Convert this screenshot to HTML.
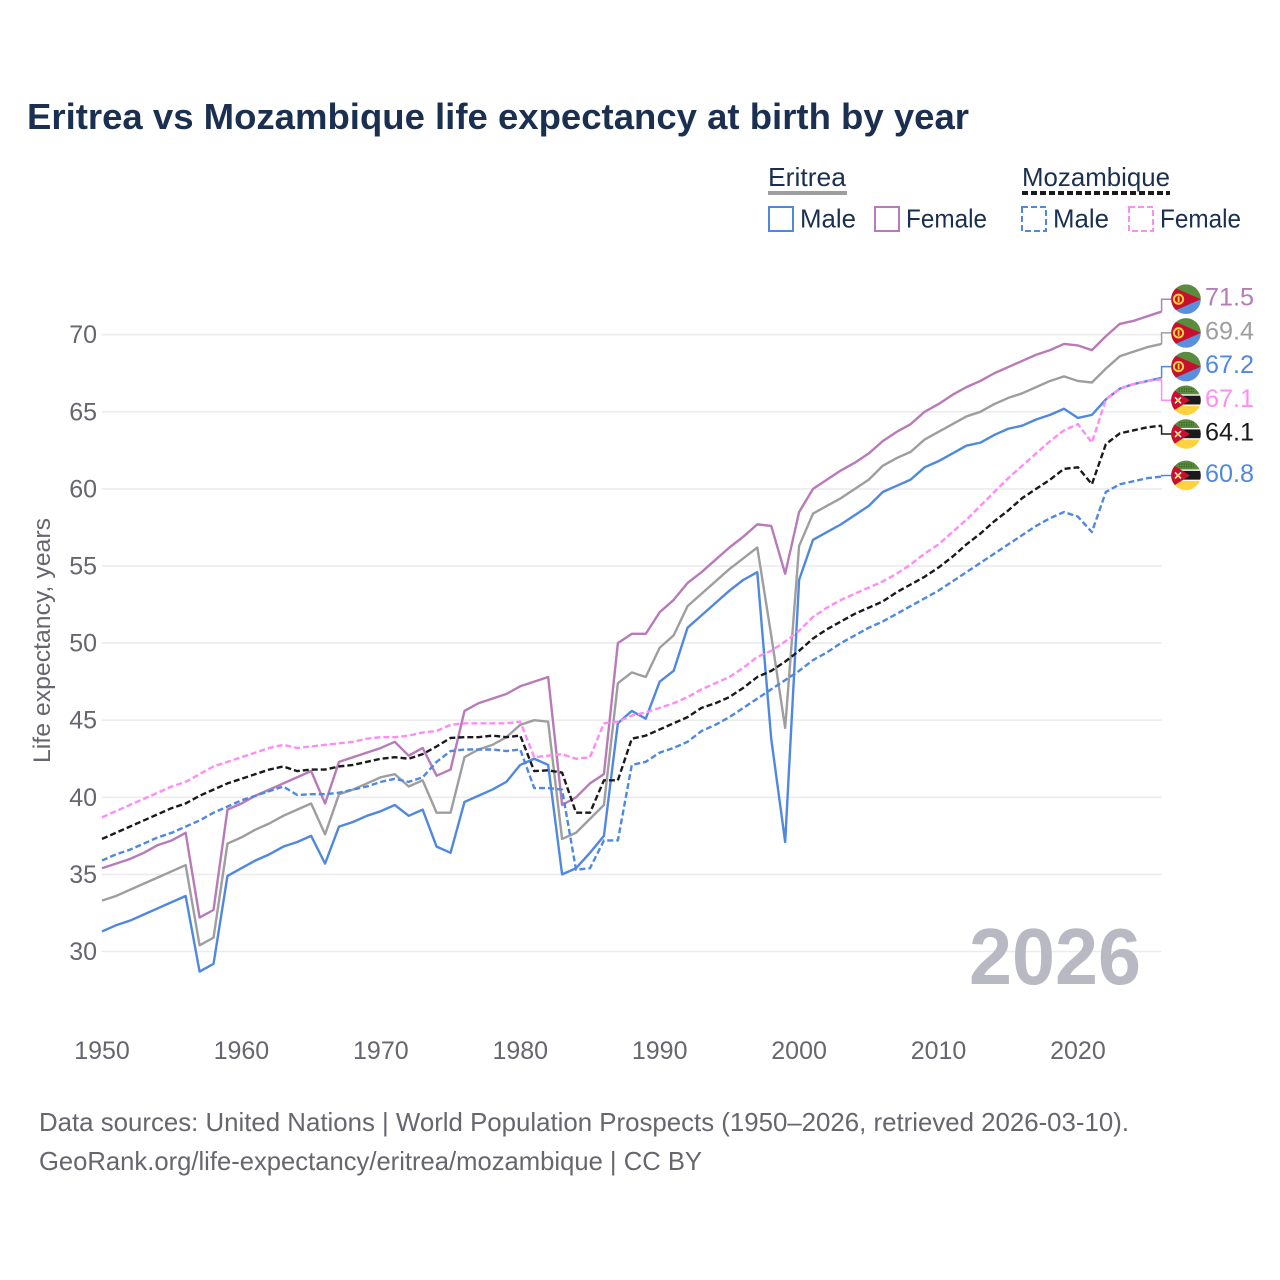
<!DOCTYPE html>
<html lang="en">
<head>
<meta charset="utf-8">
<title>Eritrea vs Mozambique life expectancy at birth by year</title>
<style>
html,body{margin:0;padding:0;background:#fff}
svg{display:block;font-family:"Liberation Sans",sans-serif}
</style>
</head>
<body>
<svg id="chart" xmlns="http://www.w3.org/2000/svg" width="1280" height="1280" viewBox="0 0 1280 1280">
<defs>
  <clipPath id="flag-clip"><circle cx="0" cy="0" r="14.8"/></clipPath>
  <pattern id="moz-dots" width="2.4" height="2.4" patternUnits="userSpaceOnUse"><rect width="2.4" height="2.4" fill="#5b8c3e"/><rect width="1.2" height="1.2" fill="#2f5a22"/></pattern>
  <symbol id="flag-eritrea" overflow="visible" viewBox="-15 -15 30 30" width="30" height="30">
    <g clip-path="url(#flag-clip)">
      <rect x="-15" y="-15" width="30" height="15" fill="#5b8c3e"/>
      <rect x="-15" y="0" width="30" height="15" fill="#5a8fe0"/>
      <polygon points="-15,-13 15,0 -15,13" fill="#c8102e"/>
      <circle cx="-7.5" cy="0" r="4.6" fill="none" stroke="#ffd23f" stroke-width="2"/>
      <rect x="-8.3" y="-2.8" width="1.8" height="5.6" fill="#ffd23f"/>
    </g>
  </symbol>
  <symbol id="flag-mozambique" overflow="visible" viewBox="-15 -15 30 30" width="30" height="30">
    <g clip-path="url(#flag-clip)">
      <rect x="-15" y="-15" width="30" height="10" fill="#5b8c3e"/>
      <rect x="-8" y="-13" width="16" height="6" fill="url(#moz-dots)"/>
      <rect x="-15" y="-6" width="30" height="12" fill="#fff"/>
      <rect x="-15" y="-4.6" width="30" height="8.8" fill="#1a1a1a"/>
      <rect x="-15" y="5.4" width="30" height="10" fill="#ffd23f"/>
      <polygon points="-15,-12 4,0 -15,12" fill="#c8102e"/>
      <path d="M-11-3l6 6M-5-3l-6 6" stroke="#fff" stroke-width="1.5"/>
      <circle cx="-8" cy="0" r="1.6" fill="#ffd23f"/>
    </g>
  </symbol>
</defs>

<text x="27" y="129" font-size="36" font-weight="700" fill="#1b3050" textLength="942" lengthAdjust="spacingAndGlyphs">Eritrea vs Mozambique life expectancy at birth by year</text>

<g id="grid"></g>
<text x="969" y="984" font-size="80" font-weight="700" fill="#b9b9c3" textLength="172" lengthAdjust="spacingAndGlyphs">2026</text>
<g id="y-ticks"></g>
<g id="x-ticks"></g>
<text transform="translate(50,763) rotate(-90)" font-size="24" fill="#66666e" textLength="245" lengthAdjust="spacingAndGlyphs">Life expectancy, years</text>

<g id="series"></g>
<g id="end-labels"></g>

<g font-size="26" fill="#1b3050">
  <g>
    <text x="768" y="186" textLength="78" lengthAdjust="spacingAndGlyphs">Eritrea</text>
    <line x1="768" x2="847" y1="193" y2="193" stroke="#9e9ea0" stroke-width="4"/>
  </g>
  <g>
    <rect x="769" y="207" width="24" height="24" fill="none" stroke="#5088e0" stroke-width="2"/>
    <text x="800" y="227.5" textLength="56" lengthAdjust="spacingAndGlyphs">Male</text>
  </g>
  <g>
    <rect x="875" y="207" width="24" height="24" fill="none" stroke="#b87ab8" stroke-width="2"/>
    <text x="906" y="227.5" textLength="81" lengthAdjust="spacingAndGlyphs">Female</text>
  </g>
  <g>
    <text x="1022" y="186" textLength="148" lengthAdjust="spacingAndGlyphs">Mozambique</text>
    <line x1="1022" x2="1170" y1="193" y2="193" stroke="#1a1a1a" stroke-width="4" stroke-dasharray="6 3"/>
  </g>
  <g>
    <rect x="1022" y="207" width="24" height="24" fill="none" stroke="#5088e0" stroke-width="2" stroke-dasharray="6 3"/>
    <text x="1053" y="227.5" textLength="56" lengthAdjust="spacingAndGlyphs">Male</text>
  </g>
  <g>
    <rect x="1129" y="207" width="24" height="24" fill="none" stroke="#ff8cf5" stroke-width="2" stroke-dasharray="6 3"/>
    <text x="1160" y="227.5" textLength="81" lengthAdjust="spacingAndGlyphs">Female</text>
  </g>
</g>

<g font-size="26" fill="#66666e">
  <text x="39" y="1131" textLength="1090" lengthAdjust="spacingAndGlyphs">Data sources: United Nations | World Population Prospects (1950–2026, retrieved 2026-03-10).</text>
  <text x="39" y="1170" textLength="663" lengthAdjust="spacingAndGlyphs">GeoRank.org/life-expectancy/eritrea/mozambique | CC BY</text>
</g>
</svg>

<script>
const startYear = 1950;
const endYear = 2026;
const xTickLabels = [1950,1960,1970,1980,1990,2000,2010,2020];
const yTickLabels = [30,35,40,45,50,55,60,65,70];

const eritreaMale = [31.3,31.7,32.0,32.4,32.8,33.2,33.6,28.7,29.2,34.9,35.4,35.9,36.3,36.8,37.1,37.5,35.7,38.1,38.4,38.8,39.1,39.5,38.8,39.2,36.8,36.4,39.7,40.1,40.5,41.0,42.1,42.5,42.1,35.0,35.4,36.4,37.5,44.8,45.6,45.1,47.5,48.2,51.0,51.8,52.6,53.4,54.1,54.6,43.8,37.1,54.1,56.7,57.2,57.7,58.3,58.9,59.8,60.2,60.6,61.4,61.8,62.3,62.8,63.0,63.5,63.9,64.1,64.5,64.8,65.2,64.6,64.8,65.8,66.5,66.8,67.0,67.2];
const eritreaFemale = [35.4,35.7,36.0,36.4,36.9,37.2,37.7,32.2,32.7,39.2,39.6,40.1,40.5,40.9,41.3,41.7,39.6,42.3,42.6,42.9,43.2,43.6,42.7,43.2,41.4,41.8,45.6,46.1,46.4,46.7,47.2,47.5,47.8,39.5,40.0,40.9,41.5,50.0,50.6,50.6,52.0,52.8,53.9,54.6,55.4,56.2,56.9,57.7,57.6,54.5,58.5,60.0,60.6,61.2,61.7,62.3,63.1,63.7,64.2,65.0,65.5,66.1,66.6,67.0,67.5,67.9,68.3,68.7,69.0,69.4,69.3,69.0,69.9,70.7,70.9,71.2,71.5];
const eritreaBoth = [33.3,33.6,34.0,34.4,34.8,35.2,35.6,30.4,30.9,37.0,37.4,37.9,38.3,38.8,39.2,39.6,37.6,40.2,40.5,40.9,41.3,41.5,40.7,41.1,39.0,39.0,42.6,43.1,43.4,43.9,44.7,45.0,44.9,37.3,37.7,38.6,39.5,47.4,48.1,47.8,49.7,50.5,52.4,53.2,54.0,54.8,55.5,56.2,50.5,44.5,56.3,58.4,58.9,59.4,60.0,60.6,61.5,62.0,62.4,63.2,63.7,64.2,64.7,65.0,65.5,65.9,66.2,66.6,67.0,67.3,67.0,66.9,67.8,68.6,68.9,69.2,69.4];
const mozambiqueMale = [35.9,36.3,36.6,37.0,37.4,37.7,38.1,38.5,39.0,39.4,39.8,40.1,40.4,40.7,40.15,40.2,40.2,40.3,40.5,40.7,41.0,41.2,41.0,41.3,42.3,43.0,43.1,43.1,43.1,43.0,43.1,40.6,40.6,40.5,35.3,35.4,37.2,37.2,42.1,42.3,42.9,43.2,43.6,44.3,44.7,45.2,45.8,46.4,47.0,47.6,48.2,48.9,49.4,50.0,50.5,51.0,51.4,51.9,52.4,52.9,53.4,54.0,54.6,55.2,55.8,56.4,57.0,57.6,58.1,58.5,58.2,57.2,59.8,60.3,60.5,60.7,60.8];
const mozambiqueFemale = [38.7,39.1,39.5,39.9,40.3,40.7,41.0,41.5,42.0,42.3,42.6,42.9,43.2,43.4,43.2,43.3,43.4,43.5,43.6,43.8,43.9,43.9,44.0,44.2,44.3,44.7,44.8,44.8,44.8,44.8,44.9,42.6,42.7,42.8,42.5,42.6,44.8,44.9,45.3,45.5,45.8,46.1,46.5,47.0,47.4,47.8,48.4,49.1,49.5,50.1,50.8,51.7,52.3,52.8,53.2,53.6,54.0,54.5,55.1,55.8,56.4,57.2,58.0,58.9,59.8,60.7,61.5,62.3,63.1,63.8,64.2,63.0,65.8,66.5,66.8,67.0,67.1];
const mozambiqueBoth = [37.3,37.7,38.1,38.5,38.9,39.3,39.6,40.1,40.5,40.9,41.2,41.5,41.8,42.0,41.7,41.8,41.8,42.0,42.1,42.3,42.5,42.6,42.5,42.8,43.3,43.85,43.9,43.9,44.0,43.9,44.0,41.7,41.75,41.6,39.0,39.0,41.1,41.1,43.8,44.0,44.4,44.8,45.2,45.8,46.1,46.5,47.1,47.8,48.2,48.8,49.5,50.3,50.9,51.4,51.9,52.3,52.7,53.3,53.8,54.3,54.9,55.6,56.4,57.1,57.9,58.6,59.4,60.0,60.6,61.3,61.4,60.3,62.9,63.6,63.8,64.0,64.1];

const NS = 'http://www.w3.org/2000/svg';
const xAxis = year => 102 + (year - startYear) * (1161.6 - 102) / (endYear - startYear);
const yAxis = value => 951.5 - (value - 30) * 15.42;

function make(tag, attrs, parent, content) {
  const el = document.createElementNS(NS, tag);
  for (const k in attrs) el.setAttribute(k, attrs[k]);
  if (content !== undefined) el.textContent = content;
  parent.appendChild(el);
  return el;
}

const gridGroup = document.getElementById('grid');
const yTickGroup = document.getElementById('y-ticks');
yTickLabels.forEach(v => {
  const g = make('line', {x1: 102, x2: 1161.6, y1: yAxis(v), y2: yAxis(v), stroke: '#ececef', 'stroke-width': 1.6}, gridGroup);
  
  
  const t = make('text', {x: 97, y: yAxis(v) + 8.5, 'text-anchor': 'end', 'font-size': 25, fill: '#66666e'}, yTickGroup, String(v));
  
  
});

const xTickGroup = document.getElementById('x-ticks');
xTickLabels.forEach(y => {
  const t = make('text', {x: xAxis(y), y: 1059, 'text-anchor': 'middle', 'font-size': 25, fill: '#66666e'}, xTickGroup, String(y));
  
  
});

const seriesDefs = [
  {key: 'eritrea-both', values: eritreaBoth, color: '#9e9ea0', dash: '', flag: 'flag-eritrea'},
  {key: 'eritrea-male', values: eritreaMale, color: '#5088e0', dash: '', flag: 'flag-eritrea'},
  {key: 'eritrea-female', values: eritreaFemale, color: '#b87ab8', dash: '', flag: 'flag-eritrea'},
  {key: 'mozambique-male', values: mozambiqueMale, color: '#5088e0', dash: '6 3', flag: 'flag-mozambique'},
  {key: 'mozambique-female', values: mozambiqueFemale, color: '#ff8cf5', dash: '6 3', flag: 'flag-mozambique'},
  {key: 'mozambique-both', values: mozambiqueBoth, color: '#1a1a1a', dash: '6 3', flag: 'flag-mozambique'}
];

const seriesGroup = document.getElementById('series');
seriesDefs.forEach(s => {
  const d = s.values.map((v, i) => (i ? 'L' : 'M') + xAxis(startYear + i).toFixed(2) + ' ' + yAxis(v).toFixed(2)).join('');
  const attrs = {d: d, fill: 'none', stroke: s.color, 'stroke-width': 2.4, 'stroke-linejoin': 'round'};
  if (s.dash) attrs['stroke-dasharray'] = s.dash;
  const p = make('path', attrs, seriesGroup);
  
  
});

/* end labels: stack by last value, spreading overlapping ones evenly */
const labelGap = 33.7;
const ordered = seriesDefs.slice().sort((a, b) => b.values[b.values.length - 1] - a.values[a.values.length - 1]);
let clusters = ordered.map(s => ({items: [s], mean: yAxis(s.values[s.values.length - 1])}));
let merged = true;
while (merged) {
  merged = false;
  for (let i = 0; i < clusters.length - 1; i++) {
    const a = clusters[i], b = clusters[i + 1];
    const aEnd = a.mean + (a.items.length - 1) * labelGap / 2;
    const bStart = b.mean - (b.items.length - 1) * labelGap / 2;
    if (bStart - aEnd < labelGap) {
      const n = a.items.length + b.items.length;
      clusters.splice(i, 2, {items: a.items.concat(b.items), mean: (a.mean * a.items.length + b.mean * b.items.length) / n});
      merged = true;
      break;
    }
  }
}
const endGroup = document.getElementById('end-labels');
clusters.forEach(c => {
  c.items.forEach((s, i) => {
    const last = s.values[s.values.length - 1];
    const ly = c.mean + (i - (c.items.length - 1) / 2) * labelGap - 1.1;
    const endX = xAxis(endYear), endY = yAxis(last);
    const leader = make('path', {d: `M${endX} ${endY}V${ly}H1172`, fill: 'none', stroke: s.color, 'stroke-width': 1.5}, endGroup);
    
    
    const flag = make('use', {href: '#' + s.flag, x: 1171, y: ly - 15, width: 30, height: 30}, endGroup);
    
    
    const label = make('text', {x: 1205, y: ly + 6.5, 'font-size': 25, fill: s.color, textLength: 49, lengthAdjust: 'spacingAndGlyphs'}, endGroup, last.toFixed(1));
    
    
  });
});
</script>
</body>
</html>
